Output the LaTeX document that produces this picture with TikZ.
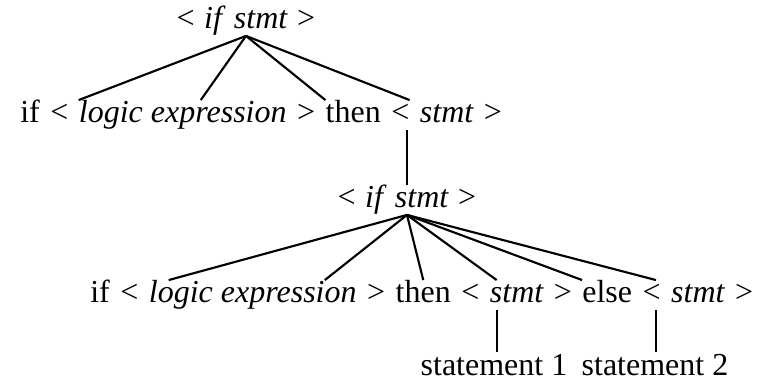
\documentclass[tikz,border=0pt]{standalone}
\usepackage{fontspec}
\setmainfont{Liberation Serif}
\usetikzlibrary{positioning,calc}
\newcommand{\treefont}{\fontsize{24}{28}\selectfont}
\newcommand{\ifstmt}{<\hspace{7pt}\textit{if\hspace{9pt}stmt}\hspace{7pt}>}

\begin{document}
\begin{tikzpicture}[
    x=0.75pt,y=-0.75pt,
    node distance=7.5pt,
    tok/.style={inner sep=0pt,text height=17pt,text depth=5pt,font=\treefont},
    nt/.style={tok,font=\treefont\itshape},
    edge/.style={line width=1.6pt}
  ]
    \useasboundingbox (0,0) rectangle (765,381);

    %% outer if statement
    \node[tok,anchor=base] (top1) at (246,29) {\ifstmt};

    \node[tok,anchor=base west] (if1) at (20,123) {if};
    \node[tok,base right=of if1] (lb1) {<};
    \node[nt,base right=of lb1] (le1) {logic expression};
    \node[tok,base right=of le1] (rb1) {>};
    \node[tok,base right=of rb1] (then1) {then};
    \node[tok,base right=of then1] (lb2) {<};
    \node[nt,base right=of lb2] (st1) {stmt};
    \node[tok,base right=of st1] (rb2) {>};

    %% inner if statement
    \node[tok,anchor=base] (top2) at (407,208) {\ifstmt};

    \node[tok,anchor=base west] (if2) at (90,303) {if};
    \node[tok,base right=of if2] (lb3) {<};
    \node[nt,base right=of lb3] (le2) {logic expression};
    \node[tok,base right=of le2] (rb3) {>};
    \node[tok,base right=of rb3] (then2) {then};
    \node[tok,base right=of then2] (lb4) {<};
    \node[nt,base right=of lb4] (st2) {stmt};
    \node[tok,base right=of st2] (rb4) {>};
    \node[tok,base right=of rb4] (else2) {else};
    \node[tok,base right=of else2] (lb5) {<};
    \node[nt,base right=of lb5] (st3) {stmt};
    \node[tok,base right=of st3] (rb5) {>};

    \node[tok,anchor=base] (s1) at (494,375) {statement 1};
    \node[tok,anchor=base] (s2) at (655,375) {statement 2};

    %% branches of the outer statement
    \draw[edge] (top1.south) -- (le1.north west);
    \draw[edge] (top1.south) -- ($(le1.north)+(18,0)$);
    \draw[edge] (top1.south) -- (then1.north west);
    \draw[edge] (top1.south) -- (lb2.north east);
    \draw[edge] (top2.north |- lb2.south) -- (top2.north);

    %% branches of the inner statement
    \coordinate (k1) at ($(st2.north west)+(7,0)$);
    \coordinate (k2) at ($(lb5.north east)+(-5,0)$);
    \draw[edge] (top2.south) -- ($(le2.north west)+(20,0)$);
    \draw[edge] (top2.south) -- ($(le2.north east)+(-32,0)$);
    \draw[edge] (top2.south) -- (then2.north);
    \draw[edge] (top2.south) -- (k1);
    \draw[edge] (top2.south) -- (else2.north west);
    \draw[edge] (top2.south) -- (k2);
    \draw[edge] (k1 |- st2.south) -- (k1 |- s1.north);
    \draw[edge] (k2 |- st3.south) -- (k2 |- s2.north);
  \end{tikzpicture}
\end{document}
